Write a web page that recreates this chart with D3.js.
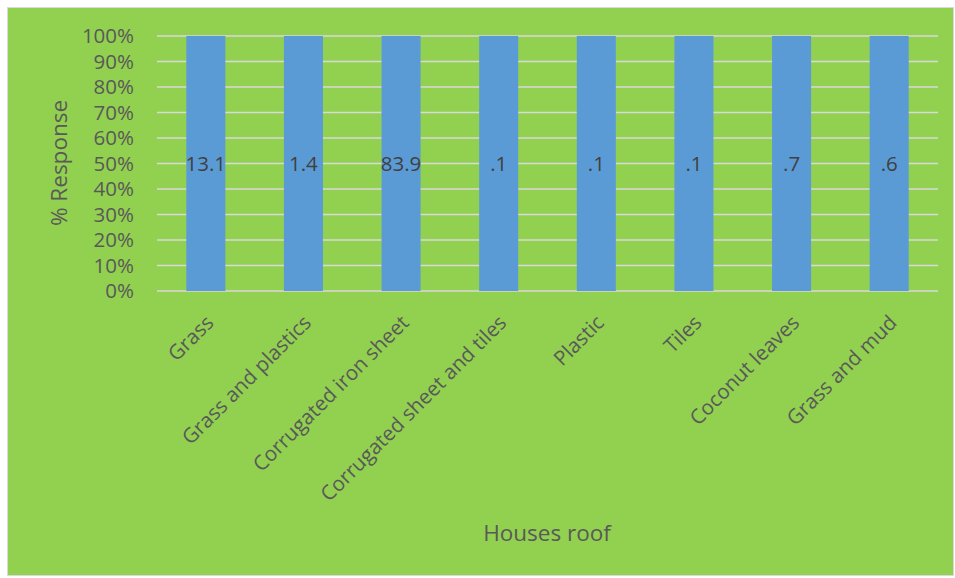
<!DOCTYPE html>
<html><head><meta charset="utf-8">
<script src="https://cdn.jsdelivr.net/npm/d3@7/dist/d3.min.js"></script>
<style>body{margin:0;background:#fff}svg{display:block}text{font-family:"Open Sans",sans-serif}</style>
</head><body><svg id="c" width="955" height="578"></svg>
<script>
const categories = ["Grass","Grass and plastics","Corrugated iron sheet","Corrugated sheet and tiles","Plastic","Tiles","Coconut leaves","Grass and mud"];
const values = [13.1, 1.4, 83.9, 0.1, 0.1, 0.1, 0.7, 0.6];
const yTicks = [0,0.1,0.2,0.3,0.4,0.5,0.6,0.7,0.8,0.9,1];
const yTitle = "% Response";
const xTitle = "Houses roof";

const svg = d3.select("#c");
const m = {l:157, r:938, t:36, b:291};
svg.append("rect").attr("x",7.5).attr("y",7.5).attr("width",946).attr("height",568)
  .attr("fill","#92d050").attr("stroke","#d9d9d9").attr("stroke-width",1);

const x = d3.scaleBand().domain(categories).range([m.l,m.r]).paddingInner(0.6).paddingOuter(0.3);
const y = d3.scaleLinear().domain([0,1]).range([m.b,m.t]);

svg.append("g").selectAll("line").data(yTicks).join("line")
  .attr("x1",m.l).attr("x2",m.r).attr("y1",d=>y(d)).attr("y2",d=>y(d))
  .attr("stroke","#d9d9d9").attr("stroke-width",1.5);

const rows = categories.map((c,i)=>({cat:c, v:values[i]}));
const stack = d3.stack().keys(["v"]).offset(d3.stackOffsetExpand);
const series = stack(rows);
svg.append("g").selectAll("rect").data(series[0]).join("rect")
  .attr("x",d=>x(d.data.cat)).attr("width",x.bandwidth())
  .attr("y",d=>y(d[1])).attr("height",d=>y(d[0])-y(d[1]))
  .attr("fill","#5b9bd5");

const fmt = v => d3.format("")(v).replace(/^0\./,".");
svg.append("g").selectAll("text").data(series[0]).join("text")
  .attr("x",d=>x(d.data.cat)+x.bandwidth()/2).attr("y",d=>(y(d[0])+y(d[1]))/2)
  .attr("dy","0.36em").attr("text-anchor","middle")
  .attr("font-size",20.5).attr("fill","#404040")
  .text(d=>fmt(d.data.v));

const yAxis = d3.axisLeft(y).tickValues(yTicks).tickFormat(d3.format(".0%")).tickSize(0).tickPadding(0);
const gy = svg.append("g").attr("transform",`translate(134,0)`).call(yAxis);
gy.select(".domain").remove();
gy.selectAll("text").attr("font-size",20.5).attr("fill","#595959").attr("font-family","'Open Sans',sans-serif");

const xAxis = d3.axisBottom(x).tickSize(0).tickPadding(0);
const gx = svg.append("g").attr("transform",`translate(0,${m.b})`).call(xAxis);
gx.select(".domain").remove();
gx.selectAll("text").attr("font-size",20.5).attr("fill","#595959").attr("font-family","'Open Sans',sans-serif")
  .attr("text-anchor","end").attr("dy",null).attr("y",0)
  .attr("transform","translate(9,33) rotate(-45)");

svg.append("text").attr("transform","translate(67,163) rotate(-90)").attr("text-anchor","middle")
  .attr("font-size",22.5).attr("fill","#595959").text(yTitle);
svg.append("text").attr("x",547).attr("y",541).attr("text-anchor","middle")
  .attr("font-size",22.5).attr("fill","#595959").text(xTitle);
</script></body></html>
